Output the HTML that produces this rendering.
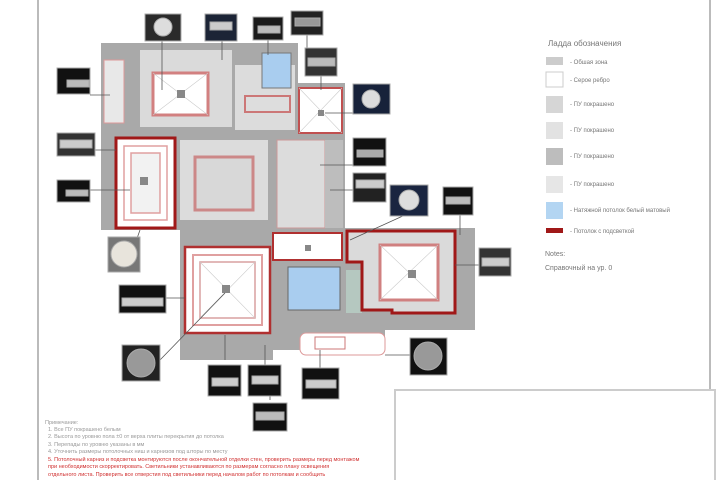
<!DOCTYPE html>
<html><head><style>body{margin:0;background:#fff}svg{display:block}</style></head><body>
<svg width="720" height="480" viewBox="0 0 720 480" xmlns="http://www.w3.org/2000/svg" font-family="Liberation Sans, sans-serif">
<rect width="720" height="480" fill="#fff"/>
<line x1="38" y1="0" x2="38" y2="480" stroke="#bbb" stroke-width="2"/>
<line x1="710" y1="0" x2="710" y2="480" stroke="#bbb" stroke-width="2"/>
<rect x="395" y="390" width="320" height="95" fill="#fff" stroke="#ccc" stroke-width="2"/>
<!-- gray structure -->
<path d="M101 43H298V83H345V230H101Z" fill="#a9a9a9"/>
<rect x="180" y="228" width="93" height="132" fill="#a9a9a9"/>
<rect x="273" y="228" width="202" height="102" fill="#a9a9a9"/>
<rect x="273" y="328" width="112" height="22" fill="#a9a9a9"/>
<!-- inner light -->
<rect x="140" y="50" width="92" height="77" fill="#dadada"/>
<rect x="235" y="65" width="60" height="65" fill="#dcdcdc"/>
<rect x="104" y="60" width="20" height="63" fill="#e8e8e8" stroke="#d99" stroke-width="1"/>
<rect x="153" y="73" width="55" height="42" fill="#fff" stroke="#d28080" stroke-width="3"/>
<rect x="262" y="53" width="29" height="35" fill="#a9cdef" stroke="#777"/>
<rect x="245" y="96" width="45" height="16" fill="#ddd" stroke="#c77" stroke-width="2"/>
<rect x="299" y="88" width="43" height="45" fill="#fff" stroke="#c05050" stroke-width="2"/>
<rect x="116" y="138" width="59" height="90" fill="#fff" stroke="#a01818" stroke-width="3"/>
<rect x="124" y="146" width="43" height="74" fill="none" stroke="#e0a0a0" stroke-width="1.5"/>
<rect x="131" y="153" width="29" height="60" fill="#f2f2f2" stroke="#e0a0a0" stroke-width="1.5"/>
<rect x="180" y="140" width="88" height="80" fill="#dcdcdc"/>
<rect x="195" y="157" width="58" height="53" fill="#d8d8d8" stroke="#c88" stroke-width="3"/>
<rect x="277" y="140" width="48" height="88" fill="#dcdcdc" stroke="#c99"/>
<rect x="325" y="140" width="18" height="88" fill="#bdbdbd"/>
<rect x="185" y="247" width="85" height="86" fill="#fff" stroke="#b03030" stroke-width="2.5"/>
<rect x="193" y="255" width="69" height="70" fill="none" stroke="#e0a0a0" stroke-width="2"/>
<rect x="200" y="262" width="55" height="56" fill="#fff" stroke="#d8a0a0" stroke-width="1.5"/>
<rect x="273" y="233" width="69" height="27" fill="#fff" stroke="#b03030" stroke-width="2"/>
<rect x="288" y="267" width="52" height="43" fill="#a9cdef" stroke="#666"/>
<rect x="346" y="270" width="16" height="43" fill="#b5c8c0"/>
<path d="M347 231H455V313H392V310H362V262H347Z" fill="#dadada" stroke="#a01818" stroke-width="3"/>
<rect x="380" y="245" width="58" height="55" fill="#fff" stroke="#d08080" stroke-width="3"/>
<rect x="300" y="333" width="85" height="22" rx="6" fill="#fff" stroke="#d99"/>
<rect x="315" y="337" width="30" height="12" fill="#fff" stroke="#c77"/>
<!-- diagonals -->
<g stroke="#ccc" stroke-width="0.6"><path d="M153 73L208 115M208 73L153 115M380 245L438 300M438 245L380 300M200 262L255 318M255 262L200 318M299 88L342 133M342 88L299 133"/></g>
<g fill="#888"><rect x="177" y="90" width="8" height="8"/><rect x="140" y="177" width="8" height="8"/><rect x="222" y="285" width="8" height="8"/><rect x="408" y="270" width="8" height="8"/><rect x="318" y="110" width="6" height="6"/><rect x="305" y="245" width="6" height="6"/></g>
<!-- leader lines -->
<g stroke="#555" stroke-width="0.8" fill="none">
<path d="M162 40V90M222 40V60M268 39V55M307 35V50M321 76V90M355 113H325M355 165H320M355 190H330M405 215L350 240M460 215V235M480 265H455M90 95H110M90 150H116M90 190H130M125 272L140 230M165 298H185M160 360L225 293M225 360V335M265 365V345M320 368V350M270 400V380M412 355H385"/>
</g>
<!-- thumbnails -->
<g stroke="#aaa" stroke-width="1">
<rect x="145" y="14" width="36" height="27" fill="#2a2a2a"/><circle cx="163" cy="27" r="9" fill="#ddd"/>
<rect x="205" y="14" width="32" height="27" fill="#1c2436"/><rect x="210" y="22" width="22" height="8" fill="#ccc"/>
<rect x="253" y="17" width="30" height="23" fill="#1a1a1a"/><rect x="258" y="26" width="22" height="7" fill="#bbb"/>
<rect x="291" y="11" width="32" height="24" fill="#222"/><rect x="295" y="18" width="25" height="8" fill="#999"/>
<rect x="305" y="48" width="32" height="28" fill="#333"/><rect x="308" y="58" width="27" height="8" fill="#bbb"/>
<rect x="353" y="84" width="37" height="30" fill="#17223a"/><circle cx="371" cy="99" r="9" fill="#ddd"/>
<rect x="353" y="138" width="33" height="28" fill="#111"/><rect x="357" y="150" width="26" height="7" fill="#aaa"/>
<rect x="353" y="173" width="33" height="29" fill="#222"/><rect x="356" y="180" width="28" height="8" fill="#ccc"/>
<rect x="390" y="185" width="38" height="31" fill="#1a2540"/><circle cx="409" cy="200" r="10" fill="#ddd"/>
<rect x="443" y="187" width="30" height="28" fill="#111"/><rect x="446" y="197" width="24" height="7" fill="#bbb"/>
<rect x="479" y="248" width="32" height="28" fill="#333"/><rect x="482" y="258" width="27" height="8" fill="#ccc"/>
<rect x="57" y="68" width="33" height="26" fill="#111"/><rect x="67" y="80" width="22" height="7" fill="#bbb"/>
<rect x="57" y="133" width="38" height="23" fill="#333"/><rect x="60" y="140" width="32" height="8" fill="#ccc"/>
<rect x="57" y="180" width="33" height="22" fill="#111"/><rect x="66" y="190" width="22" height="6" fill="#bbb"/>
<rect x="108" y="237" width="32" height="35" fill="#777"/><circle cx="124" cy="254" r="13" fill="#e8e4dc"/>
<rect x="119" y="285" width="47" height="28" fill="#111"/><rect x="122" y="298" width="41" height="8" fill="#ccc"/>
<rect x="122" y="345" width="38" height="36" fill="#222"/><circle cx="141" cy="363" r="14" fill="#999"/>
<rect x="208" y="365" width="33" height="31" fill="#111"/><rect x="212" y="378" width="26" height="8" fill="#ccc"/>
<rect x="248" y="365" width="33" height="31" fill="#111"/><rect x="252" y="376" width="26" height="8" fill="#ccc"/>
<rect x="302" y="368" width="37" height="31" fill="#111"/><rect x="306" y="380" width="30" height="8" fill="#ccc"/>
<rect x="253" y="403" width="34" height="28" fill="#111"/><rect x="256" y="412" width="28" height="8" fill="#bbb"/>
<rect x="410" y="338" width="37" height="37" fill="#111"/><circle cx="428" cy="356" r="14" fill="#999"/>
</g>
<!-- legend -->
<g font-size="6" fill="#777">
<text x="548" y="46" font-size="8">Ладда обозначения</text>
<rect x="546" y="57" width="17" height="8" fill="#ccc"/><text x="570" y="64">- Обшая зона</text>
<rect x="546" y="72" width="17" height="15" fill="#fff" stroke="#ccc"/><text x="570" y="82">- Серое ребро</text>
<rect x="546" y="96" width="17" height="17" fill="#d6d6d6"/><text x="570" y="106">- ПУ покрашено</text>
<rect x="546" y="122" width="17" height="17" fill="#e2e2e2"/><text x="570" y="132">- ПУ покрашено</text>
<rect x="546" y="148" width="17" height="17" fill="#bdbdbd"/><text x="570" y="158">- ПУ покрашено</text>
<rect x="546" y="176" width="17" height="17" fill="#e6e6e6"/><text x="570" y="186">- ПУ покрашено</text>
<rect x="546" y="202" width="17" height="17" fill="#b3d5f2"/><text x="570" y="212">- Натяжной потолок белый матовый</text>
<rect x="546" y="228" width="17" height="5" fill="#a01818"/><text x="570" y="233">- Потолок с подсветкой</text>
<text x="545" y="256" font-size="7">Notes:</text>
<text x="545" y="270" font-size="7">Справочный на ур. 0</text>
</g>
<!-- notes -->
<g font-size="5.5">
<text x="45" y="424" fill="#999">Примечание:</text>
<text x="48" y="431" fill="#999">1. Все ПУ покрашено белым</text>
<text x="48" y="438" fill="#999">2. Высота по уровню пола ±0 от верха плиты перекрытия до потолка</text>
<text x="48" y="446" fill="#999">3. Перепады по уровню указаны в мм</text>
<text x="48" y="453" fill="#999">4. Уточнить размеры потолочных ниш и карнизов под шторы по месту</text>
<text x="48" y="461" fill="#d03030">5. Потолочный карниз и подсветка монтируются после окончательной отделки стен, проверить размеры перед монтажом</text>
<text x="48" y="468" fill="#d03030">   при необходимости скорректировать. Светильники устанавливаются по размерам согласно плану освещения</text>
<text x="48" y="476" fill="#d03030">   отдельного листа. Проверить все отверстия под светильники перед началом работ по потолкам и сообщить</text>
</g>
</svg>
</body></html>
